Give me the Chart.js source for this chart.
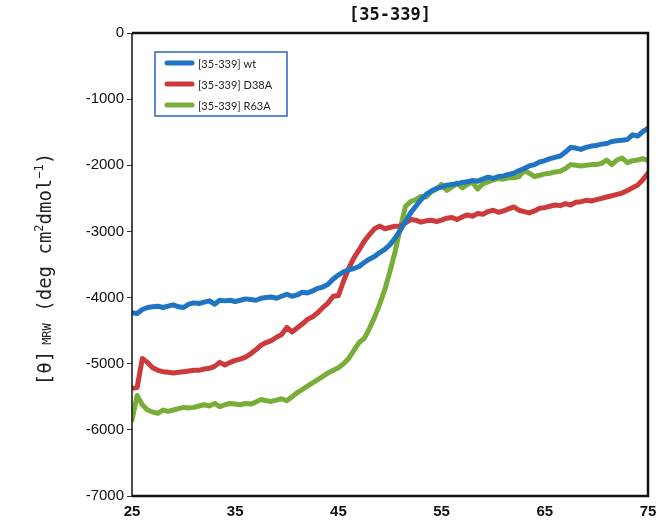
<!DOCTYPE html>
<html>
<head>
<meta charset="utf-8">
<script src="https://cdn.jsdelivr.net/npm/chart.js@4.4.1/dist/chart.umd.min.js"></script>
<style>
  body { margin: 0; background: #fff; }
  canvas { display: block; }
</style>
</head>
<body>
<canvas id="myChart" width="665" height="522"></canvas>
<script>
const temps = [25, 25.5, 26, 26.5, 27, 27.5, 28, 28.5, 29, 29.5,
  30, 30.5, 31, 31.5, 32, 32.5, 33, 33.5, 34, 34.5,
  35, 35.5, 36, 36.5, 37, 37.5, 38, 38.5, 39, 39.5,
  40, 40.5, 41, 41.5, 42, 42.5, 43, 43.5, 44, 44.5,
  45, 45.5, 46, 46.5, 47, 47.5, 48, 48.5, 49, 49.5,
  50, 50.5, 51, 51.5, 52, 52.5, 53, 53.5, 54, 54.5,
  55, 55.5, 56, 56.5, 57, 57.5, 58, 58.5, 59, 59.5,
  60, 60.5, 61, 61.5, 62, 62.5, 63, 63.5, 64, 64.5,
  65, 65.5, 66, 66.5, 67, 67.5, 68, 68.5, 69, 69.5,
  70, 70.5, 71, 71.5, 72, 72.5, 73, 73.5, 74, 74.5, 75];

const wt = [-4230, -4240, -4180, -4150, -4140, -4130, -4150, -4130, -4110, -4140,
  -4150, -4100, -4080, -4090, -4070, -4050, -4100, -4040, -4050, -4040,
  -4060, -4040, -4020, -4030, -4040, -4010, -4000, -3990, -4010, -3980,
  -3950, -3980, -3960, -3920, -3930, -3900, -3860, -3840, -3800, -3720,
  -3660, -3610, -3580, -3560, -3530, -3470, -3420, -3380, -3320, -3270,
  -3200, -3100, -2980, -2850, -2720, -2620, -2520, -2440, -2390, -2350,
  -2330, -2300, -2290, -2280, -2260, -2250, -2230, -2240, -2210, -2180,
  -2200, -2170, -2160, -2140, -2120, -2080, -2050, -2010, -1990, -1950,
  -1930, -1900, -1880, -1860, -1800, -1730, -1740, -1760, -1730, -1710,
  -1700, -1680, -1670, -1640, -1630, -1620, -1610, -1540, -1560, -1490, -1440];

const d38a = [-5370, -5360, -4920, -4980, -5060, -5100, -5120, -5130, -5140, -5130,
  -5120, -5110, -5100, -5100, -5080, -5070, -5040, -4980, -5020, -4980,
  -4950, -4930, -4900, -4850, -4790, -4720, -4680, -4650, -4600, -4560,
  -4450, -4520, -4460, -4400, -4330, -4290, -4230, -4150, -4080, -3980,
  -3970, -3750, -3560, -3400, -3280, -3150, -3050, -2960, -2920, -2960,
  -2940, -2920, -2920, -2870, -2820, -2830, -2860, -2840, -2830, -2850,
  -2830, -2800, -2790, -2820, -2780, -2750, -2770, -2730, -2740, -2700,
  -2680, -2710, -2690, -2660, -2630, -2680, -2700, -2720, -2690, -2650,
  -2640, -2620, -2600, -2610, -2580, -2600, -2560, -2550, -2530, -2540,
  -2520, -2500, -2480, -2460, -2440, -2420, -2380, -2340, -2300, -2220, -2120];

const r63a = [-5850, -5480, -5620, -5700, -5730, -5750, -5700, -5720, -5700, -5680,
  -5660, -5670, -5660, -5640, -5620, -5640, -5600, -5650, -5620, -5600,
  -5610, -5620, -5600, -5610, -5580, -5540, -5560, -5570, -5550, -5530,
  -5560, -5500, -5440, -5390, -5340, -5290, -5240, -5190, -5140, -5100,
  -5060, -5000, -4920, -4800, -4680, -4620, -4470, -4300, -4100, -3880,
  -3600, -3300, -2950, -2620, -2550, -2520, -2470, -2480, -2400, -2360,
  -2290, -2380, -2330, -2270, -2340, -2290, -2260, -2360, -2280, -2250,
  -2220, -2200, -2210, -2190, -2190, -2170, -2080, -2120, -2170, -2150,
  -2130, -2120, -2100, -2090, -2050, -1990, -2000, -2010, -2000, -1990,
  -1990, -1970, -1920, -1990, -1920, -1890, -1960, -1930, -1920, -1900, -1930];

const seriesNames = ["[35-339] wt", "[35-339] D38A", "[35-339] R63A"];
const seriesColors = ["#1f74c4", "#cc3a3c", "#78ad38"];
const xTicks = [25, 35, 45, 55, 65, 75];
const yTicks = [0, -1000, -2000, -3000, -4000, -5000, -6000, -7000];
const chartTitle = "[35-339]";

function pts(vals) {
  return temps.map((t, i) => ({ x: t, y: vals[i] }));
}

// title, y label, frame and legend box
const decor = {
  id: "decor",
  afterDraw(chart) {
    const ctx = chart.ctx;
    const a = chart.chartArea;
    ctx.save();
    // frame
    ctx.strokeStyle = "#111";
    ctx.lineWidth = 2.5;
    ctx.beginPath();
    ctx.moveTo(a.left, a.top);
    ctx.lineTo(a.right, a.top);
    ctx.lineTo(a.right, a.bottom);
    ctx.lineTo(a.left, a.bottom);
    ctx.stroke();
    ctx.lineWidth = 1.5;
    ctx.beginPath();
    ctx.moveTo(a.left, a.top);
    ctx.lineTo(a.left, a.bottom);
    ctx.stroke();

    // title
    ctx.fillStyle = "#111";
    ctx.font = "bold 17px 'DejaVu Sans Mono'";
    ctx.textAlign = "center";
    ctx.textBaseline = "middle";
    ctx.fillText(chartTitle, (a.left + a.right) / 2, 16);

    // y axis label with sub/superscripts
    const parts = [
      { t: "[\u03b8]", s: 19, dy: 0 },
      { t: " ", s: 10, dy: 0 },
      { t: "MRW", s: 12, dy: 0 },
      { t: " (deg cm", s: 19, dy: 0 },
      { t: "2", s: 12, dy: -8 },
      { t: "dmol", s: 19, dy: 0 },
      { t: "\u22121", s: 12, dy: -8 },
      { t: ")", s: 19, dy: 0 }
    ];
    let total = 0;
    parts.forEach((p) => {
      ctx.font = p.s + "px 'DejaVu Sans Mono'";
      p.w = ctx.measureText(p.t).width;
      total += p.w;
    });
    ctx.translate(44, 269);
    ctx.rotate(-Math.PI / 2);
    ctx.fillStyle = "#222";
    ctx.textAlign = "left";
    ctx.textBaseline = "alphabetic";
    let x = -total / 2;
    parts.forEach((p) => {
      ctx.font = p.s + "px 'DejaVu Sans Mono'";
      ctx.fillText(p.t, x, 7 + p.dy);
      x += p.w;
    });
    ctx.restore();

    // legend
    ctx.save();
    ctx.fillStyle = "#fff";
    ctx.fillRect(155, 52, 132, 64);
    ctx.strokeStyle = "#2a66c0";
    ctx.lineWidth = 1.5;
    ctx.strokeRect(155, 52, 132, 64);
    chart.data.datasets.forEach((ds, i) => {
      const y = 63 + i * 21;
      ctx.strokeStyle = ds.borderColor;
      ctx.lineWidth = 5;
      ctx.lineCap = "round";
      ctx.beginPath();
      ctx.moveTo(167, y);
      ctx.lineTo(192, y);
      ctx.stroke();
      ctx.fillStyle = "#222";
      ctx.font = "11px Lato";
      ctx.textAlign = "left";
      ctx.textBaseline = "middle";
      ctx.fillText(ds.label, 198, y + 1);
    });
    ctx.restore();
  }
};

new Chart(document.getElementById("myChart"), {
  type: "line",
  data: {
    datasets: [
      { label: seriesNames[0], data: pts(wt), borderColor: seriesColors[0] },
      { label: seriesNames[1], data: pts(d38a), borderColor: seriesColors[1] },
      { label: seriesNames[2], data: pts(r63a), borderColor: seriesColors[2] }
    ].map((d) => Object.assign(d, {
      borderWidth: 5,
      pointRadius: 0,
      tension: 0,
      fill: false,
      borderJoinStyle: "round",
      borderCapStyle: "round"
    }))
  },
  options: {
    responsive: false,
    animation: false,
    layout: { padding: { top: 33, right: 17, left: 0, bottom: 0 } },
    plugins: {
      legend: { display: false },
      tooltip: { enabled: false },
      title: { display: false }
    },
    scales: {
      x: {
        type: "linear",
        min: 25,
        max: 75,
        afterBuildTicks: (s) => { s.ticks = xTicks.map((v) => ({ value: v })); },
        afterFit: (s) => { s.height = 26; },
        grid: { display: false, drawTicks: false },
        border: { display: false },
        ticks: {
          color: "#111",
          padding: 7,
          maxRotation: 0,
          callback: (v) => String(v),
          font: { family: "Liberation Sans", size: 15, weight: "bold" }
        }
      },
      y: {
        min: -7000,
        max: 0,
        afterBuildTicks: (s) => { s.ticks = yTicks.map((v) => ({ value: v })); },
        afterFit: (s) => { s.width = 132; },
        grid: { drawOnChartArea: false, drawTicks: true, tickLength: 5, color: "#333" },
        border: { display: false },
        ticks: {
          color: "#111",
          padding: 3,
          callback: (v) => String(v),
          font: { family: "Liberation Sans", size: 15 }
        }
      }
    }
  },
  plugins: [decor]
});
</script>
</body>
</html>
